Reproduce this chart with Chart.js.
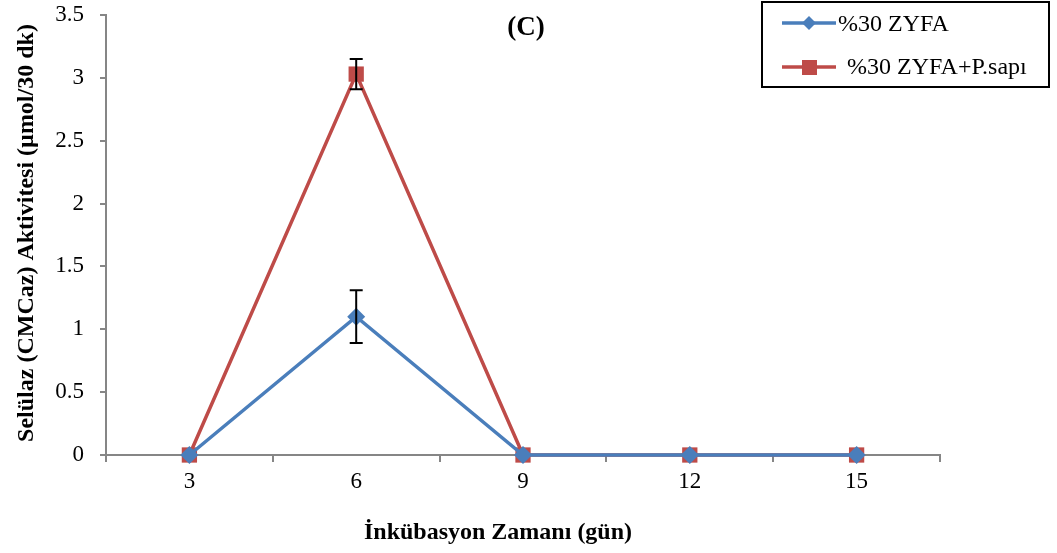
<!DOCTYPE html>
<html>
<head>
<meta charset="utf-8">
<script src="https://cdn.jsdelivr.net/npm/chart.js@4/dist/chart.umd.min.js"></script>
<style>
  html, body { margin: 0; padding: 0; background: #fff; }
  #wrap { width: 1057px; height: 553px; }
</style>
</head>
<body>
<div id="wrap"><canvas id="c" width="1057" height="553"></canvas></div>
<script>
const days = ['3', '6', '9', '12', '15'];
const zyfa = [0, 1.1, 0, 0, 0];
const zyfaErr = [0, 0.21, 0, 0, 0];
const zyfaSap = [0, 3.03, 0, 0, 0];
const zyfaSapErr = [0, 0.12, 0, 0, 0];
const yTicks = [0, 0.5, 1, 1.5, 2, 2.5, 3, 3.5];

const BLUE = '#4A7EBB';
const RED = '#BE4B48';
const AXIS = '#868686';
const SERIF = '"Liberation Serif", "DejaVu Serif", serif';

// error bars + titles + boxed legend
const extras = {
    id: 'extras',
    afterDatasetsDraw(chart) {
        const ctx = chart.ctx;
        const x = chart.scales.x, y = chart.scales.y;
        const errs = [zyfaErr, zyfaSapErr];
        ctx.save();
        ctx.strokeStyle = '#000';
        ctx.lineWidth = 2;
        chart.data.datasets.forEach((ds, i) => {
            ds.data.forEach((v, j) => {
                const e = errs[i][j];
                if (!e) return;
                const px = x.getPixelForValue(j);
                const top = y.getPixelForValue(v + e);
                const bot = y.getPixelForValue(v - e);
                ctx.beginPath();
                ctx.moveTo(px, top); ctx.lineTo(px, bot);
                ctx.moveTo(px - 6.5, top); ctx.lineTo(px + 6.5, top);
                ctx.moveTo(px - 6.5, bot); ctx.lineTo(px + 6.5, bot);
                ctx.stroke();
            });
        });

        ctx.fillStyle = '#000';
        ctx.textAlign = 'center';
        ctx.textBaseline = 'middle';
        ctx.font = 'bold 27px ' + SERIF;
        ctx.fillText('(C)', 526, 28);

        ctx.font = 'bold 24px ' + SERIF;
        ctx.fillText('İnkübasyon Zamanı (gün)', 498, 533);

        ctx.save();
        ctx.translate(27, 233);
        ctx.rotate(-Math.PI / 2);
        ctx.fillText('Selülaz (CMCaz) Aktivitesi (µmol/30 dk)', 0, 0);
        ctx.restore();

        // legend box
        ctx.lineWidth = 2;
        ctx.strokeStyle = '#000';
        ctx.strokeRect(762, 2, 287, 85);
        ctx.lineWidth = 3.5;
        ctx.strokeStyle = BLUE;
        ctx.beginPath(); ctx.moveTo(782, 23); ctx.lineTo(836, 23); ctx.stroke();
        ctx.fillStyle = BLUE;
        ctx.beginPath();
        ctx.moveTo(809, 16); ctx.lineTo(816, 23); ctx.lineTo(809, 30); ctx.lineTo(802, 23);
        ctx.closePath(); ctx.fill();
        ctx.strokeStyle = RED;
        ctx.beginPath(); ctx.moveTo(782, 67); ctx.lineTo(836, 67); ctx.stroke();
        ctx.fillStyle = RED;
        ctx.fillRect(802, 60, 15, 15);
        ctx.fillStyle = '#000';
        ctx.textAlign = 'left';
        ctx.font = '24px ' + SERIF;
        ctx.fillText('%30 ZYFA', 838, 25);
        ctx.fillText('%30 ZYFA+P.sapı', 847, 68);
        ctx.restore();
    }
};

new Chart(document.getElementById('c'), {
    type: 'line',
    data: {
        labels: days,
        datasets: [{
            label: '%30 ZYFA',
            data: zyfa,
            borderColor: BLUE,
            backgroundColor: BLUE,
            borderWidth: 3.5,
            pointStyle: 'rectRot',
            pointRadius: 9,
            pointBorderWidth: 0,
            clip: false,
            tension: 0
        }, {
            label: '%30 ZYFA+P.sapı',
            data: zyfaSap,
            borderColor: RED,
            backgroundColor: RED,
            borderWidth: 3.5,
            pointStyle: 'rect',
            pointRadius: 10.8,
            pointBorderWidth: 0,
            clip: false,
            tension: 0
        }]
    },
    options: {
        responsive: false,
        animation: false,
        layout: { padding: { top: 15, right: 117, left: 0, bottom: 0 } },
        plugins: {
            legend: { display: false },
            tooltip: { enabled: false }
        },
        scales: {
            x: {
                offset: true,
                afterFit: s => { s.height = 98; s.paddingLeft = 0; s.paddingRight = 0; },
                border: { display: true, color: AXIS, width: 2 },
                grid: { offset: true, drawOnChartArea: false, drawTicks: true, tickLength: 7, color: AXIS, lineWidth: 2 },
                ticks: { color: '#000', padding: 6, font: { family: SERIF, size: 23 } }
            },
            y: {
                min: 0,
                max: 3.5,
                afterFit: s => { s.width = 106; s.paddingTop = 0; s.paddingBottom = 0; },
                afterBuildTicks: s => { s.ticks = yTicks.map(v => ({ value: v })); },
                border: { display: true, color: AXIS, width: 2 },
                grid: { drawOnChartArea: false, drawTicks: true, tickLength: 6, color: AXIS, lineWidth: 2 },
                ticks: { color: '#000', padding: 16, font: { family: SERIF, size: 23 }, callback: v => String(v) }
            }
        }
    },
    plugins: [extras]
});
</script>
</body>
</html>
